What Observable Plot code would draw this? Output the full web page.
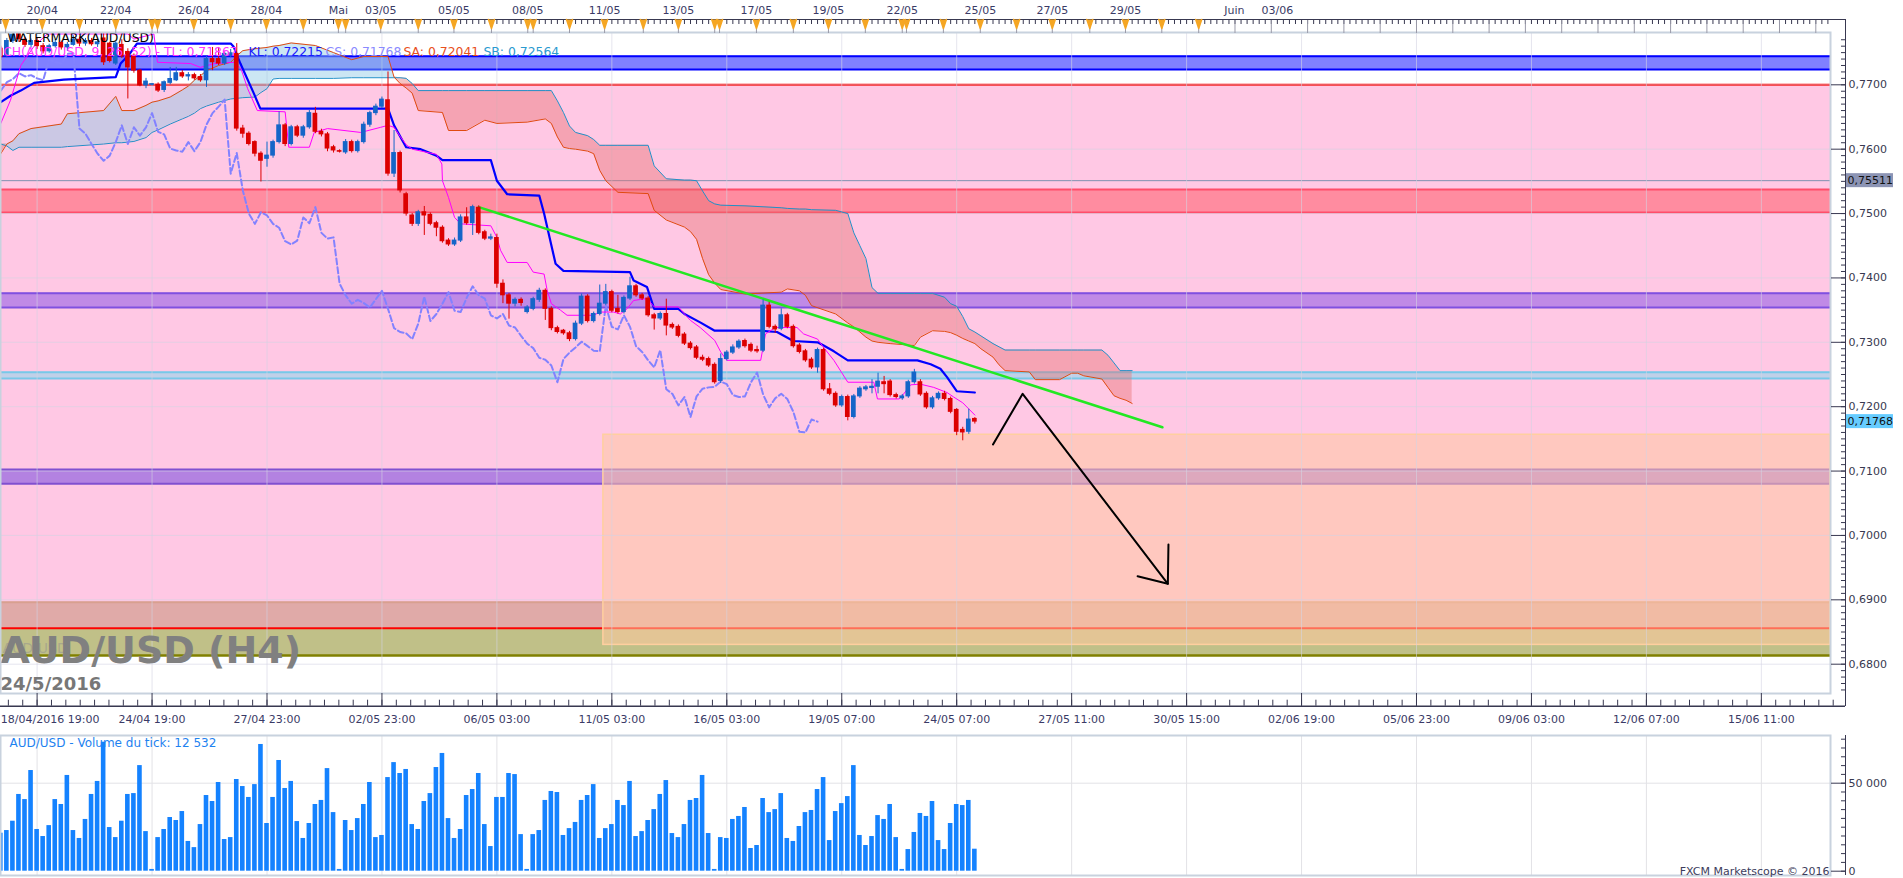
<!DOCTYPE html>
<html>
<head>
<meta charset="utf-8">
<script src="https://cdn.jsdelivr.net/npm/d3@7"></script>
<script src="https://cdn.jsdelivr.net/npm/@observablehq/plot@0.6"></script>
<style>
  body { margin: 0; background: #fff; }
  #chart svg { display: block; }
</style>
</head>
<body>
<div id="chart"></div>
<script>
// AUD/USD H4, one value per 4h bar (bar index 0 = 17/04 19:00)
const opens = [0.7756,0.7745,0.7768,0.7779,0.7770,0.7762,0.7768,0.7760,0.7752,0.7760,0.7765,0.7758,0.7762,0.7770,0.7764,0.7768,0.7763,0.7772,0.7764,0.7733,
  0.7762,0.7751,0.7745,0.7722,0.7699,0.7700,0.7700,0.7692,0.7703,0.7707,0.7718,0.7713,0.7715,0.7712,0.7707,0.7740,0.7740,0.7733,0.7746,0.7748,
  0.7632,0.7624,0.7611,0.7593,0.7585,0.7590,0.7611,0.7637,0.7608,0.7634,0.7621,0.7634,0.7655,0.7627,0.7623,0.7603,0.7597,0.7595,0.7611,0.7597,
  0.7611,0.7638,0.7656,0.7666,0.7676,0.7562,0.7594,0.7530,0.7497,0.7484,0.7502,0.7498,0.7485,0.7478,0.7458,0.7452,0.7458,0.7494,0.7485,0.7509,
  0.7471,0.7461,0.7462,0.7391,0.7373,0.7360,0.7366,0.7347,0.7352,0.7366,0.7380,0.7352,0.7322,0.7318,0.7314,0.7305,0.7329,0.7371,0.7333,0.7344,
  0.7360,0.7378,0.7352,0.7347,0.7368,0.7387,0.7373,0.7368,0.7342,0.7337,0.7344,0.7327,0.7324,0.7312,0.7298,0.7292,0.7276,0.7274,0.7265,0.7240,
  0.7274,0.7284,0.7292,0.7302,0.7296,0.7288,0.7287,0.7357,0.7324,0.7321,0.7342,0.7324,0.7295,0.7286,0.7273,0.7261,0.7288,0.7227,0.7220,0.7202,
  0.7215,0.7184,0.7216,0.7227,0.7229,0.7231,0.7238,0.7239,0.7218,0.7213,0.7216,0.7238,0.7238,0.7220,0.7199,0.7213,0.7220,0.7212,0.7195,0.7164,
  0.7161,0.7181];
const highs = [0.7760,0.7772,0.7780,0.7781,0.7773,0.7771,0.7772,0.7764,0.7763,0.7770,0.7768,0.7766,0.7776,0.7774,0.7772,0.7772,0.7770,0.7781,0.7766,0.7766,
  0.7770,0.7756,0.7748,0.7724,0.7710,0.7702,0.7703,0.7706,0.7727,0.7727,0.7722,0.7719,0.7718,0.7716,0.7744,0.7758,0.7758,0.7752,0.7755,0.7764,
  0.7637,0.7627,0.7613,0.7596,0.7611,0.7614,0.7658,0.7640,0.7637,0.7637,0.7637,0.7660,0.7665,0.7631,0.7626,0.7606,0.7599,0.7615,0.7614,0.7614,
  0.7642,0.7659,0.7670,0.7681,0.7720,0.7629,0.7597,0.7533,0.7500,0.7505,0.7511,0.7501,0.7488,0.7481,0.7461,0.7462,0.7498,0.7509,0.7513,0.7512,
  0.7474,0.7468,0.7468,0.7397,0.7376,0.7369,0.7369,0.7357,0.7370,0.7384,0.7383,0.7355,0.7325,0.7320,0.7317,0.7333,0.7375,0.7374,0.7347,0.7389,
  0.7390,0.7381,0.7373,0.7372,0.7401,0.7390,0.7376,0.7371,0.7345,0.7347,0.7367,0.7330,0.7327,0.7315,0.7301,0.7295,0.7280,0.7277,0.7268,0.7282,
  0.7287,0.7296,0.7304,0.7305,0.7299,0.7294,0.7366,0.7362,0.7327,0.7352,0.7345,0.7327,0.7298,0.7289,0.7276,0.7291,0.7291,0.7236,0.7223,0.7218,
  0.7218,0.7219,0.7231,0.7233,0.7242,0.7252,0.7247,0.7242,0.7221,0.7219,0.7241,0.7258,0.7242,0.7223,0.7216,0.7223,0.7224,0.7215,0.7197,0.7168,
  0.7196,0.7183];
const lows = [0.7738,0.7742,0.7764,0.7766,0.7758,0.7757,0.7755,0.7748,0.7749,0.7757,0.7754,0.7752,0.7760,0.7759,0.7760,0.7760,0.7758,0.7730,0.7734,0.7730,
  0.7741,0.7678,0.7718,0.7697,0.7694,0.7698,0.7688,0.7688,0.7700,0.7705,0.7710,0.7706,0.7707,0.7704,0.7696,0.7722,0.7730,0.7730,0.7742,0.7628,
  0.7617,0.7605,0.7588,0.7549,0.7572,0.7586,0.7608,0.7604,0.7605,0.7618,0.7617,0.7631,0.7624,0.7619,0.7596,0.7594,0.7594,0.7592,0.7594,0.7594,
  0.7608,0.7634,0.7652,0.7663,0.7558,0.7556,0.7532,0.7496,0.7480,0.7480,0.7466,0.7481,0.7464,0.7454,0.7449,0.7449,0.7455,0.7482,0.7466,0.7467,
  0.7458,0.7458,0.7384,0.7360,0.7336,0.7355,0.7356,0.7344,0.7349,0.7362,0.7334,0.7318,0.7313,0.7311,0.7301,0.7302,0.7326,0.7330,0.7330,0.7341,
  0.7357,0.7346,0.7344,0.7344,0.7365,0.7370,0.7365,0.7339,0.7319,0.7334,0.7310,0.7320,0.7307,0.7295,0.7288,0.7273,0.7270,0.7261,0.7235,0.7236,
  0.7271,0.7281,0.7289,0.7291,0.7284,0.7283,0.7284,0.7321,0.7314,0.7318,0.7321,0.7291,0.7282,0.7269,0.7258,0.7252,0.7224,0.7217,0.7199,0.7199,
  0.7178,0.7181,0.7213,0.7224,0.7220,0.7220,0.7220,0.7215,0.7212,0.7210,0.7213,0.7235,0.7216,0.7196,0.7196,0.7210,0.7209,0.7189,0.7155,0.7147,
  0.7157,0.7173];
const closes = [0.7743,0.7768,0.7778,0.7771,0.7762,0.7768,0.7760,0.7752,0.7760,0.7765,0.7758,0.7762,0.7770,0.7764,0.7768,0.7763,0.7766,0.7735,0.7737,0.7764,
  0.7744,0.7727,0.7722,0.7699,0.7705,0.7701,0.7691,0.7704,0.7709,0.7718,0.7713,0.7715,0.7710,0.7707,0.7740,0.7735,0.7733,0.7748,0.7749,0.7632,
  0.7624,0.7608,0.7593,0.7582,0.7590,0.7611,0.7637,0.7608,0.7634,0.7621,0.7634,0.7656,0.7627,0.7623,0.7601,0.7598,0.7596,0.7611,0.7597,0.7611,
  0.7638,0.7656,0.7666,0.7677,0.7562,0.7594,0.7536,0.7500,0.7484,0.7502,0.7497,0.7484,0.7478,0.7457,0.7452,0.7458,0.7494,0.7485,0.7510,0.7470,
  0.7461,0.7463,0.7391,0.7373,0.7360,0.7366,0.7361,0.7354,0.7367,0.7380,0.7352,0.7322,0.7316,0.7314,0.7305,0.7329,0.7371,0.7333,0.7344,0.7360,
  0.7378,0.7349,0.7347,0.7369,0.7387,0.7373,0.7368,0.7342,0.7337,0.7344,0.7326,0.7323,0.7310,0.7298,0.7291,0.7276,0.7273,0.7264,0.7238,0.7274,
  0.7284,0.7292,0.7301,0.7294,0.7287,0.7286,0.7357,0.7324,0.7320,0.7342,0.7324,0.7294,0.7285,0.7272,0.7261,0.7288,0.7227,0.7220,0.7202,0.7215,
  0.7184,0.7216,0.7228,0.7230,0.7231,0.7239,0.7235,0.7218,0.7215,0.7216,0.7238,0.7253,0.7219,0.7199,0.7213,0.7220,0.7212,0.7192,0.7161,0.7160,
  0.7180,0.71768];
// tick volume per bar, thousands
const volumes = [21.6,23.1,28.4,43.6,40.7,57.2,23.7,19.7,25.9,40.7, 37.9,54.4,23.1,18.6,29.4,43.6,51.0,73.3,24.8,19.1,
  28.4,43.6,44.1,60.0,22.5,1.0,19.1,23.7,30.5,28.8, 33.9,16.9,13.4,26.5,43.0,39.6,50.4,18.0,19.1,52.1,
  48.1,41.9,49.2,72.0,27.1,41.9,62.9,47.0,51.0,28.2, 18.6,27.1,37.9,40.2,58.3,33.3,1.0,28.8,23.1,29.9,
  37.9,50.4,19.1,20.3,53.2,61.7,55.5,57.8,26.5,23.7, 39.6,44.1,58.9,66.9,29.9,18.6,23.7,43.0,46.4,55.5,
  26.5,14.0,41.9,41.9,55.5,54.9,20.8,1.0,20.8,23.1, 40.2,45.3,44.7,20.3,24.2,27.7,40.2,43.0,49.2,18.6,
  24.2,26.5,40.2,37.3,51.0,19.7,22.5,28.8,35.0,43.6, 51.5,21.4,19.1,26.5,40.2,41.3,54.4,21.4,1.0,19.1,
  18.6,29.4,31.1,36.2,12.9,14.6,41.3,33.3,35.0,44.1, 18.6,16.9,25.4,33.3,34.5,46.4,53.2,17.4,33.9,38.4,
  42.4,60.0,20.3,14.6,19.7,31.6,29.4,37.9,19.1,1.0, 12.3,22.0,32.8,31.1,39.6,17.4,12.3,27.1,37.9,37.3,
  40.2,12.5];

// Ichimoku lines (bar index, price)
const tenkanIdx = [0,1.6,3.3,5.5,7.7,21,22,25.3,25.9,31.4,33,35.3,38.6,39.7,40.8,42.4,47,47.6,51,51.8,54,59.5,62.8,64,65,66,67,68,72,72.9,73,74,75,76,81,82,82.6,83.7,87,88,89.8,90.3,91,92.5,93.6,98,99,101.3,102.4,103.5,104.6,106.8,108,112,113,114,115.6,118,119,120,125.6,126.4,128,131.6,132.7,135,136,137.7,140,144.3,144.9,148.5,149,150.4,152,154.2,156.4,157.5,159,161];
const tenkanVal = [0.7640,0.7676,0.7730,0.7760,0.7779,0.7779,0.7771,0.7779,0.7735,0.7733,0.7727,0.7733,0.7735,0.7725,0.7694,0.7660,0.7658,0.7603,0.7603,0.7626,0.7632,0.7626,0.7634,0.7637,0.7634,0.7620,0.7607,0.7600,0.7592,0.7577,0.7551,0.7525,0.7494,0.7484,0.7481,0.7463,0.7443,0.7424,0.7424,0.7409,0.7406,0.7381,0.7360,0.7350,0.7342,0.7342,0.7347,0.7347,0.7344,0.7352,0.7365,0.7368,0.7355,0.7355,0.7344,0.7334,0.7323,0.7303,0.7285,0.7272,0.7272,0.7313,0.7323,0.7323,0.7313,0.7305,0.7292,0.7272,0.7238,0.7238,0.7212,0.7212,0.7217,0.7234,0.7235,0.7230,0.7222,0.7215,0.7206,0.7187];
const kijunIdx = [0,1.6,3.3,5.5,10.4,19,19.8,21.3,22.5,38,38.5,39.6,41.8,42.9,64,65,67,69.4,72,73,81,82,83.7,89,89.8,91.7,93,104,104.6,106.8,108,112,113,115.6,118,125.6,128.3,131,135,136,137.7,140,151.5,153.7,155.3,156.4,158,161];
const kijunVal = [0.7673,0.7683,0.7691,0.7703,0.7708,0.7712,0.7733,0.7748,0.7764,0.7764,0.7759,0.7733,0.7687,0.7663,0.7663,0.7637,0.7603,0.7600,0.7590,0.7583,0.7583,0.7551,0.7530,0.7528,0.7500,0.7422,0.7411,0.7409,0.7396,0.7386,0.7352,0.7352,0.7344,0.7331,0.7318,0.7318,0.7316,0.7302,0.7300,0.7295,0.7286,0.7272,0.7272,0.7266,0.7259,0.7246,0.7224,0.7222];
const cloudIdx = [0,1,2,3,5,10,11,17,19,20,22,24,25,26,28,30,31,32,33,34,36,38,39,40,42,43,44,45,46,48,52,55,58,60,64,65,66,67,68,69,73,74,77,80,82,87,90,91,92,93,94,95,97,98,99,100,102,107,108,110,113,114,115,116,117,118,119,123,129,130,132,133,134,138,140,141,142,143,144,145,147,151,152,154,156,157,158,159,160,161,162,164,165,166,170,171,175,177,178,179,182,183,184,185,186,187];
const senkouA = [0.7593,0.7608,0.7613,0.7624,0.7632,0.7639,0.7655,0.7660,0.7682,0.7660,0.7660,0.7668,0.7673,0.7675,0.7681,0.7692,0.7698,0.7707,0.7714,0.7722,0.7730,0.7735,0.7745,0.7753,0.7756,0.7757,0.7758,0.7760,0.7761,0.7765,0.7761,0.7750,0.7739,0.7744,0.7744,0.7712,0.7702,0.7695,0.7687,0.7660,0.7657,0.7629,0.7629,0.7645,0.7640,0.7642,0.7647,0.7640,0.7619,0.7603,0.7601,0.7600,0.7597,0.7593,0.7567,0.7551,0.7533,0.7531,0.7505,0.7490,0.7479,0.7472,0.7460,0.7430,0.7405,0.7392,0.7382,0.7375,0.7378,0.7383,0.7380,0.7373,0.7357,0.7344,0.7330,0.7324,0.7316,0.7308,0.7302,0.7300,0.7298,0.7295,0.7308,0.7318,0.7317,0.7315,0.7311,0.7306,0.7302,0.7298,0.7290,0.7277,0.7265,0.7256,0.7254,0.7242,0.7242,0.7252,0.7252,0.7248,0.7243,0.7230,0.7217,0.7213,0.7210,0.7205];
const senkouB = [0.7608,0.7605,0.7598,0.7603,0.7603,0.7603,0.7604,0.7608,0.7610,0.7610,0.7612,0.7618,0.7626,0.7630,0.7639,0.7647,0.7651,0.7656,0.7663,0.7667,0.7673,0.7678,0.7679,0.7680,0.7681,0.7688,0.7694,0.7709,0.7710,0.7710,0.7710,0.7710,0.7711,0.7711,0.7711,0.7711,0.7711,0.7710,0.7702,0.7691,0.7691,0.7691,0.7691,0.7691,0.7691,0.7691,0.7691,0.7691,0.7675,0.7657,0.7636,0.7626,0.7621,0.7615,0.7606,0.7606,0.7606,0.7606,0.7574,0.7554,0.7552,0.7552,0.7551,0.7535,0.7520,0.7515,0.7513,0.7512,0.7509,0.7508,0.7507,0.7507,0.7506,0.7505,0.7500,0.7470,0.7450,0.7430,0.7385,0.7376,0.7376,0.7376,0.7376,0.7376,0.7370,0.7360,0.7356,0.7340,0.7321,0.7316,0.7310,0.7298,0.7293,0.7288,0.7288,0.7288,0.7288,0.7288,0.7288,0.7288,0.7288,0.7280,0.7268,0.7256,0.7256,0.7256];

// drawn annotations and horizontal levels
const trendIdx = [79, 192];
const trendVal = [0.7510, 0.7168];
const arrowIdx = [164.0, 168.9, 192.9];
const arrowVal = [0.71413, 0.72200, 0.69249];
const headIdx = [193.0, 192.9, 187.9];
const headVal = [0.69860, 0.69249, 0.69367];
const bandLo = [0.77238, 0.75016, 0.73541, 0.72438, 0.70802, 0.68560, 0.68135];
const bandHi = [0.77444, 0.75374, 0.73763, 0.72536, 0.71024, 0.68963, 0.68560];
const zoneStart = 99.6, zoneLo = 0.6830, zoneHi = 0.71564;
const pinkLo = 0.68135, pinkHi = 0.7700;
const levelVal = [0.7700, 0.6856, 0.68135, 0.75511];
const lastPrice = 0.71768;

// axes
const bottomTickIdx = [6,25,44,63,82,101,120,139,158,177,196,215,234,253,272,291];
const bottomTickText = ["18/04/2016 19:00","24/04 19:00","27/04 23:00","02/05 23:00","06/05 03:00","11/05 03:00","16/05 03:00","19/05 07:00","24/05 07:00","27/05 11:00","30/05 15:00","02/06 19:00","05/06 23:00","09/06 03:00","12/06 07:00","15/06 11:00"];
const topTickIdx = [6.85,19,31.9,43.9,55.8,62.8,74.9,87.1,99.8,112,124.9,136.8,149,161.9,173.8,185.9,203.9,211];
const topTickText = ["20/04","22/04","26/04","28/04","Mai","03/05","05/05","08/05","11/05","13/05","17/05","19/05","22/05","25/05","27/05","29/05","Juin","03/06"];
const dayMarkIdx = [0.8,6.85,13,19,25,25.9,31.9,38,43.9,50,55.8,57,62.8,69,74.9,81.1,87.1,88,94,99.8,106.2,112,118,118.8,124.9,131,136.8,142.9,149,149.7,155.8,161.9,167.9,173.8,180,185.9,191.9,198];
const priceTicks = d3.range(0.68, 0.7701, 0.01);
const volumeTicks = [0, 50000];

// styles
const bandFill = ["#8080ff", "#ff8ca0", "#c08ae6", "#c0d0e8", "#a070e0", "#e0aaa8", "#c0c088"];
const bandOpacity = [1, 1, 1, 1, 0.8, 1, 1];
const bandEdgeLo = ["#0000ff", "#ff4d6a", "#8050e0", "#78c8e8", "#8050d0", null, null];
const bandEdgeHi = ["#0000ff", "#ff4d6a", "#8050e0", "#78c8e8", "#8050d0", "#d8a090", null];
const levelColor = ["#ff0000", "#ff0000", "#808000", "#8090b0"];
const levelWidth = [2, 2, 2.5, 1];
const up = "#1565c8", down = "#dc0000";
const axisColor = "#383850";
const font = "DejaVu Sans, Verdana, sans-serif";

const xMin = -0.05, xMax = 302.43;
const yMin = 0.675449, yMax = 0.778124;
const bars = d3.range(opens.length);
const barColor = i => closes[i] >= opens[i] ? up : down;
const pts = (xs, ys) => xs.map((x, j) => ({x, y: ys[j]}));
const cloud = cloudIdx.map((x, j) => ({x, a: senkouA[j], b: senkouB[j]}));
const bands = bandLo.map((lo, j) => ({lo, hi: bandHi[j], j}));
const fmtPrice = d => d.toFixed(4).replace(".", ",");
const bottomLabel = new Map(bottomTickIdx.map((d, j) => [d, bottomTickText[j]]));
const topLabel = new Map(topTickIdx.map((d, j) => [d, topTickText[j]]));
const bottomMinor = d3.range(6 - 19 / 8 * 2, 303, 19 / 8);
const legend = [
  {text: "ICH(AUD/USD, 9, 26, 52) - TL: 0,71867", dx: -1, color: "#ff33ff"},
  {text: "KL: 0,72215", dx: 248, color: "#1a1aff"},
  {text: "CS: 0,71768", dx: 325, color: "#8a8aff"},
  {text: "SA: 0,72041", dx: 403, color: "#e8501c"},
  {text: "SB: 0,72564", dx: 483, color: "#2a9ad0"}
];

const price = Plot.plot({
  width: 1903, height: 733,
  marginLeft: 0, marginRight: 73, marginTop: 32, marginBottom: 40,
  x: {domain: [xMin, xMax], label: null},
  y: {domain: [yMin, yMax], label: null},
  color: {type: "identity"},
  style: {fontFamily: font, fontSize: "11px", background: "white", overflow: "visible"},
  marks: [
    Plot.rect([0], {x1: xMin, x2: xMax, y1: pinkLo, y2: pinkHi, fill: "#ffc8e4"}),
    Plot.rect(bands, {x1: xMin, x2: xMax, y1: "lo", y2: "hi", fill: d => bandFill[d.j], fillOpacity: d => bandOpacity[d.j]}),
    Plot.ruleY(bands.filter(d => bandEdgeLo[d.j]), {y: "lo", stroke: d => bandEdgeLo[d.j], strokeWidth: 2}),
    Plot.ruleY(bands.filter(d => bandEdgeHi[d.j]), {y: "hi", stroke: d => bandEdgeHi[d.j], strokeWidth: 2}),
    Plot.ruleY(levelVal, {y: d => d, stroke: (d, j) => levelColor[j], strokeWidth: (d, j) => levelWidth[j]}),
    Plot.rect([0], {x1: zoneStart, x2: xMax, y1: zoneLo, y2: zoneHi, fill: "#ffc8a0", fillOpacity: 0.55, stroke: "#ffcf9f", strokeWidth: 1.5}),
    Plot.ruleX(bottomTickIdx, {x: d => d, stroke: "#d4d4e2", strokeOpacity: 0.6}),
    Plot.ruleY(priceTicks, {y: d => d, stroke: "#d4d4e2", strokeOpacity: 0.6}),
    // cloud
    Plot.areaY(cloud, {x: "x", y1: "b", y2: d => Math.max(d.a, d.b), fill: "#8cc8e4", fillOpacity: 0.45}),
    Plot.areaY(cloud, {x: "x", y1: "a", y2: d => Math.max(d.a, d.b), fill: "#e87070", fillOpacity: 0.42}),
    Plot.line(cloud, {x: "x", y: "b", stroke: "#2090c8", strokeWidth: 1}),
    Plot.line(cloud, {x: "x", y: "a", stroke: "#e04a10", strokeWidth: 1}),
    // chikou = close shifted 26 bars back
    Plot.line(d3.range(26, closes.length), {x: i => i - 26, y: i => closes[i], stroke: "#8282ff", strokeWidth: 2, strokeDasharray: "6,3"}),
    Plot.line(pts(kijunIdx, kijunVal), {x: "x", y: "y", stroke: "#0000ff", strokeWidth: 2.2}),
    Plot.line(pts(tenkanIdx, tenkanVal), {x: "x", y: "y", stroke: "#ff00ff", strokeWidth: 1}),
    Plot.line(pts(trendIdx, trendVal), {x: "x", y: "y", stroke: "#22e822", strokeWidth: 2.5}),
    // candles
    Plot.ruleX(bars, {x: i => i, y1: i => lows[i], y2: i => highs[i], stroke: barColor, strokeWidth: 1}),
    Plot.rect(bars, {x1: i => i - 0.39, x2: i => i + 0.39, y1: i => opens[i], y2: i => closes[i], fill: barColor, insetTop: -0.5, insetBottom: -0.5}),
    // hand-drawn arrow
    Plot.line(pts(arrowIdx, arrowVal), {x: "x", y: "y", stroke: "#000", strokeWidth: 2}),
    Plot.line(pts(headIdx, headVal), {x: "x", y: "y", stroke: "#000", strokeWidth: 2}),
    // watermark and legend
    Plot.text(["AUD/USD"], {frameAnchor: "bottom-left", dx: 2, dy: -41, textAnchor: "start", lineAnchor: "bottom", fontSize: 14, fill: "#909090", fillOpacity: 0.5}),
    Plot.text(["AUD/USD (H4)"], {frameAnchor: "bottom-left", dx: 0, dy: -31, textAnchor: "start", lineAnchor: "bottom", fontSize: 38, fontWeight: "bold", fill: "#808080"}),
    Plot.text(["24/5/2016"], {frameAnchor: "bottom-left", dx: 0, dy: -4, textAnchor: "start", lineAnchor: "bottom", fontSize: 18, fontWeight: "bold", fill: "#777"}),
    Plot.text(["WATERMARK(AUD/USD)"], {frameAnchor: "top-left", dx: 7, dy: 6, textAnchor: "start", lineAnchor: "middle", fontSize: 12.4, fill: "#000"}),
    ...legend.map(s => Plot.text([s.text], {frameAnchor: "top-left", dx: s.dx, dy: 20, textAnchor: "start", lineAnchor: "middle", fontSize: 12.4, fill: s.color})),
    Plot.frame({stroke: "#c8d2de", strokeWidth: 2}),
    // right axis
    Plot.ruleX([xMax], {dx: 15, insetTop: -13, insetBottom: -13, stroke: axisColor}),
    Plot.axisY({anchor: "right", ticks: priceTicks, tickSize: 15, tickPadding: 3, tickFormat: fmtPrice, fontSize: 11, color: axisColor, label: null}),
    Plot.axisY({anchor: "right", ticks: d3.range(0.676, 0.778, 0.001), tickSize: 5, dx: 10, tickFormat: () => "", color: axisColor, label: null}),
    Plot.rect([0.75511, lastPrice], {x1: xMax, x2: xMax, y1: d => d, y2: d => d, insetLeft: 16, insetRight: -63, insetTop: -7, insetBottom: -7, fill: (d, j) => j ? "#66ccff" : "#8c94b4"}),
    Plot.text([0.75511, lastPrice], {x: xMax, y: d => d, dx: 17, text: d => d.toFixed(5).replace(".", ","), textAnchor: "start", fontSize: 11, fill: "#111"}),
    // top axis
    Plot.ruleY([yMax], {dy: -13, insetRight: -15, stroke: axisColor}),
    Plot.axisX({anchor: "top", ticks: d3.range(0, 303), tickSize: 4, dy: -9, tickFormat: () => "", color: axisColor, label: null}),
    Plot.axisX({anchor: "top", ticks: dayMarkIdx.concat(d3.range(204, 303, 6)), tickSize: 13, tickFormat: () => "", color: "#9a9aa8", label: null}),
    Plot.vector(dayMarkIdx, {x: d => d, y: yMax, dy: -13, length: 9, rotate: 180, shape: "spike", r: 3, anchor: "start", fill: "#f5a623", stroke: "#f5a623"}),
    Plot.axisX({anchor: "top", ticks: topTickIdx, tickSize: 0, tickPadding: 19, tickFormat: d => topLabel.get(d), fontSize: 11, color: "#3a3a66", label: null}),
    // bottom axis
    Plot.ruleY([yMin], {dy: 12.7, insetRight: -15, stroke: axisColor, strokeWidth: 1.5}),
    Plot.axisX({anchor: "bottom", ticks: bottomTickIdx, tickSize: 12.7, tickFormat: () => "", color: axisColor, label: null}),
    Plot.axisX({anchor: "bottom", ticks: bottomMinor, tickSize: 6, dy: 6.7, tickFormat: () => "", color: axisColor, label: null}),
    Plot.axisX({anchor: "bottom", ticks: bottomTickIdx.slice(1), tickSize: 0, tickPadding: 22, tickFormat: d => bottomLabel.get(d), fontSize: 11, color: "#3a3a66", label: null}),
    Plot.axisX({anchor: "bottom", ticks: bottomTickIdx.slice(0, 1), tickSize: 0, tickPadding: 22, textAnchor: "start", dx: -36.3, tickFormat: d => bottomLabel.get(d), fontSize: 11, color: "#3a3a66", label: null})
  ]
});

const volume = Plot.plot({
  width: 1903, height: 145,
  marginLeft: 0, marginRight: 73, marginTop: 2, marginBottom: 3,
  x: {domain: [xMin, xMax], label: null, axis: null},
  y: {domain: [-2443, 77100], label: null},
  style: {fontFamily: font, fontSize: "11px", background: "white", overflow: "visible"},
  marks: [
    Plot.ruleX(bottomTickIdx, {x: d => d, stroke: "#e2e2e6"}),
    Plot.ruleY([50000], {y: d => d, stroke: "#e2e2e6"}),
    Plot.rect(volumes, {x1: (d, i) => i - 0.38, x2: (d, i) => i + 0.38, y1: 0, y2: d => d * 1000, fill: "#1482ff"}),
    Plot.frame({stroke: "#c8d2de", strokeWidth: 2}),
    Plot.ruleX([xMax], {dx: 15, stroke: axisColor}),
    Plot.axisY({anchor: "right", ticks: volumeTicks, tickSize: 15, tickPadding: 3, tickFormat: d => d ? "50 000" : "0", fontSize: 11, color: axisColor, label: null}),
    Plot.axisY({anchor: "right", ticks: d3.range(0, 77000, 5000), tickSize: 5, dx: 10, tickFormat: () => "", color: axisColor, label: null}),
    Plot.text(["AUD/USD - Volume du tick: 12 532"], {frameAnchor: "top-left", dx: 9, dy: 8, textAnchor: "start", lineAnchor: "middle", fontSize: 12, fill: "#1e82f0"}),
    Plot.text(["FXCM Marketscope © 2016"], {frameAnchor: "bottom-right", dx: -1, dy: -1, textAnchor: "end", lineAnchor: "bottom", fontSize: 11, fill: "#3c3c5c"})
  ]
});

d3.select("#chart").append(() => price);
d3.select("#chart").append(() => volume);
</script>
</body>
</html>
